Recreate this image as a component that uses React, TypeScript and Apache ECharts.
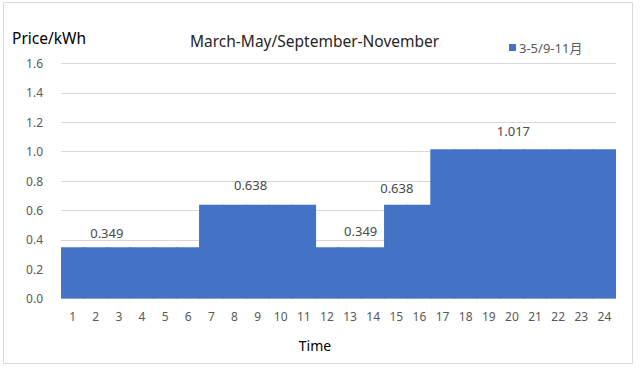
import React, { useEffect, useRef } from "react";
import * as echarts from "echarts";

const hours = ["1","2","3","4","5","6","7","8","9","10","11","12","13","14","15","16","17","18","19","20","21","22","23","24"];
const prices = [0.349,0.349,0.349,0.349,0.349,0.349,0.638,0.638,0.638,0.638,0.638,0.349,0.349,0.349,0.638,0.638,1.017,1.017,1.017,1.017,1.017,1.017,1.017,1.017];
// index of bar carrying a label, with [dx, distance]
const labelIdx = [2, 8, 13, 14, 19];
const labelPos: [number, number][] = [[-12, 8], [-7, 13.5], [-12.5, 9.5], [0.5, 10.5], [1.5, 11.5]];
const titleText = "March-May/September-November";
const seriesName = "3-5/9-11月";
const yName = "Price/kWh";
const xName = "Time";

const FONT = "'Noto Sans', 'Noto Sans CJK SC', sans-serif";

export default function App() {
  const ref = useRef<HTMLDivElement>(null);
  useEffect(() => {
    const chart = echarts.init(ref.current!, null, { renderer: "svg" });
    const data = prices.map((v, i) => {
      const k = labelIdx.indexOf(i);
      if (k < 0) return v;
      return {
        value: v,
        label: {
          show: true,
          position: "top",
          distance: labelPos[k][1],
          offset: [labelPos[k][0], 0],
          formatter: (p: any) => p.value.toFixed(3),
          color: "#4a4a4a",
          fontSize: 13,
          fontFamily: FONT,
        },
      };
    });
    chart.setOption({
      animation: false,
      textStyle: { fontFamily: FONT },
      title: {
        text: titleText,
        left: 190,
        top: 33,
        padding: 0,
        textStyle: { fontSize: 15.5, fontWeight: "normal", color: "#262626", fontFamily: FONT },
      },
      legend: {
        left: 504,
        top: 36,
        itemWidth: 7,
        itemHeight: 7,
        itemGap: 3,
        icon: "rect",
        textStyle: { fontSize: 13, color: "#595959", fontFamily: FONT, padding: [0, 0, 0, -2] },
        data: [seriesName],
      },
      grid: { left: 61, right: 24, top: 63.5, bottom: 73.5 },
      xAxis: {
        type: "category",
        data: hours,
        axisTick: { show: false },
        axisLine: { lineStyle: { color: "#d9d9d9" } },
        axisLabel: { color: "#595959", fontSize: 12, margin: 12, fontFamily: FONT, interval: 0 },
      },
      yAxis: {
        type: "value",
        min: 0,
        max: 1.6,
        interval: 0.2,
        axisLabel: { color: "#595959", fontSize: 12, margin: 18, fontFamily: FONT, formatter: (v: number) => v.toFixed(1) },
        splitLine: { lineStyle: { color: "#d9d9d9" } },
        axisLine: { show: false },
        axisTick: { show: false },
      },
      graphic: [
        {
          type: "rect",
          shape: { x: 3.5, y: 2.5, width: 629, height: 361 },
          style: { fill: "none", stroke: "#d9d9d9", lineWidth: 1 },
          silent: true,
        },
        {
          type: "text",
          left: 12,
          top: 30,
          style: { text: yName, fontSize: 15.5, fill: "#000000", fontFamily: FONT },
        },
        {
          type: "text",
          x: 315,
          y: 345,
          style: { text: xName, fontSize: 14, fill: "#000000", fontFamily: FONT, align: "center", verticalAlign: "middle" },
        },
      ],
      series: [
        {
          name: seriesName,
          type: "bar",
          data,
          barWidth: "106%",
          itemStyle: { color: "#4472C4" },
        },
      ],
    });
    return () => chart.dispose();
  }, []);
  return (
    <div
      ref={ref}
      style={{ position: "absolute", left: 0, top: 0, width: 640, height: 372, background: "#ffffff" }}
    />
  );
}
